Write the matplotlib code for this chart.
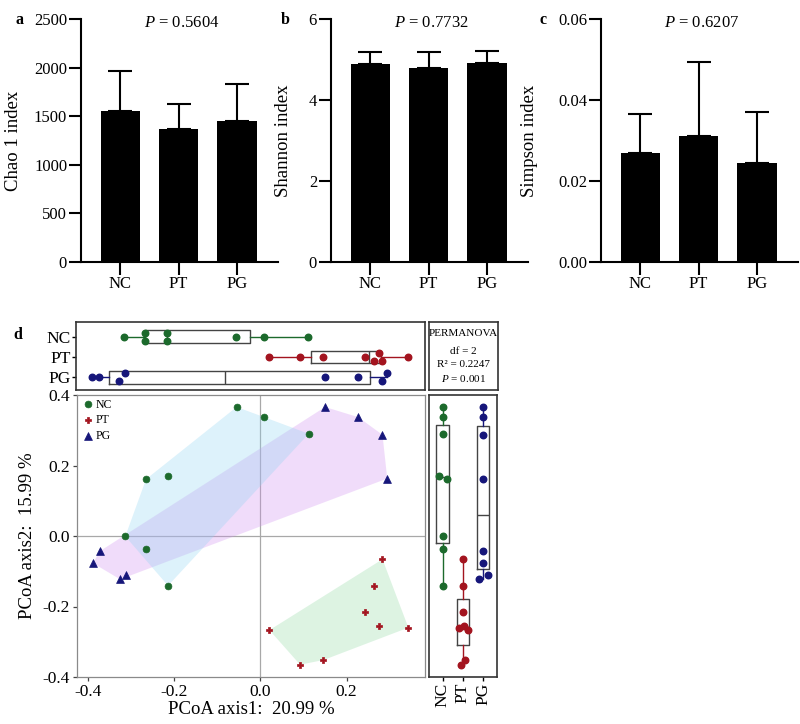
import numpy as np
import matplotlib
matplotlib.use('Agg')
import matplotlib.pyplot as plt

plt.rcParams['font.family'] = ['Liberation Serif', 'DejaVu Serif']
plt.rcParams['mathtext.fontset'] = 'custom'
plt.rcParams['mathtext.rm'] = 'Liberation Serif'
plt.rcParams['mathtext.it'] = 'Liberation Serif:italic'

# alpha diversity (mean, sd)
groups = ['NC', 'PT', 'PG']
chao_mean = [1553, 1368, 1451]
chao_sd = [412, 254, 377]
shannon_mean = [4.88, 4.78, 4.91]
shannon_sd = [0.30, 0.41, 0.31]
simpson_mean = [0.0268, 0.0311, 0.0244]
simpson_sd = [0.0097, 0.0183, 0.0126]
p_alpha = ['0.5604', '0.7732', '0.6207']

# PCoA coordinates
nc_x = [-0.055, 0.009, 0.112, -0.265, -0.214, -0.313, -0.265, -0.214]
nc_y = [0.366, 0.337, 0.290, 0.161, 0.171, -0.001, -0.038, -0.141]
pt_x = [0.283, 0.263, 0.243, 0.275, 0.343, 0.021, 0.092, 0.146]
pt_y = [-0.066, -0.141, -0.216, -0.254, -0.260, -0.267, -0.365, -0.352]
pg_x = [0.150, 0.227, 0.283, 0.294, -0.372, -0.388, -0.312, -0.325]
pg_y = [0.366, 0.337, 0.287, 0.163, -0.043, -0.077, -0.111, -0.123]

# jitter of the dots in the marginal box plots
nc_jit_top = [0, 0, 0, 0.2, 0.2, 0, -0.2, -0.2]
pt_jit_top = [-0.2, -0.2, 0, 0.2, 0, 0, 0, 0]
pg_jit_top = [0, 0, -0.2, 0.2, 0, 0, 0.2, -0.2]
nc_jit_side = [0, 0, 0, 0.2, -0.18, 0, 0, 0]
pt_jit_side = [0, 0, 0, 0.03, -0.17, 0.23, -0.1, 0.12]
pg_jit_side = [0, 0, 0, 0, 0, 0, 0.22, -0.2]

cols = ['#1c6a2c', '#a3141f', '#16167a']
hull_cols = ['#8fd4f2', '#8fd9a2', '#d08ef0']
markers = ['o', 'P', '^']
msizes = [24, 18, 32]

fig = plt.figure(figsize=(8, 7.24), dpi=100)


def add_ax(l, t, r, b):
    return fig.add_axes([l / 800, 1 - b / 724, (r - l) / 800, (b - t) / 724])


# ---- bar panels a, b, c
bar_data = [(chao_mean, chao_sd, 'Chao 1 index', [0, 500, 1000, 1500, 2000, 2500], '%d', -0.30),
            (shannon_mean, shannon_sd, 'Shannon index', [0, 2, 4, 6], '%d', -0.20),
            (simpson_mean, simpson_sd, 'Simpson index', [0, 0.02, 0.04, 0.06], '%.2f', -0.32)]
lefts = [81, 331, 601]
for i in range(3):
    means, sds, lab, ticks, fmt, lx = bar_data[i]
    ax = add_ax(lefts[i], 19, lefts[i] + 197, 262)
    pos = np.arange(3)
    ax.bar(pos, means, width=0.67, color='black', zorder=3)
    ax.errorbar(pos, means, yerr=[np.zeros(3), sds], fmt='none', ecolor='black',
                elinewidth=1.5, capsize=8.5, capthick=1.5, zorder=2)
    ax.set_xlim(-0.67, 2.7)
    ax.set_ylim(0, ticks[-1])
    ax.set_yticks(ticks)
    ax.set_yticklabels([fmt % t for t in ticks])
    ax.set_xticks(pos)
    ax.set_xticklabels(groups)
    for s in ['top', 'right']:
        ax.spines[s].set_visible(False)
    for s in ['left', 'bottom']:
        ax.spines[s].set_linewidth(1.5)
    ax.tick_params(axis='both', direction='out', length=9, width=1.5, labelsize=12, pad=1)
    ax.set_ylabel(lab, fontsize=13.5)
    ax.yaxis.set_label_coords(lx, 0.5)
    ax.text(0.51, 0.985, '$P$ = ' + p_alpha[i], transform=ax.transAxes,
            ha='center', va='center', fontsize=12)

fig.text(15 / 800, 1 - 20 / 724, 'a', fontsize=11.5, fontweight='bold', va='center')
fig.text(281 / 800, 1 - 20 / 724, 'b', fontsize=11.5, fontweight='bold', va='center')
fig.text(539 / 800, 1 - 20 / 724, 'c', fontsize=11.5, fontweight='bold', va='center')
fig.text(13 / 800, 1 - 335 / 724, 'd', fontsize=11.5, fontweight='bold', va='center')


# ---- PCoA scatter
def hull(xs, ys):
    pts = sorted(zip(xs, ys))

    def cross(o, a, b):
        return (a[0] - o[0]) * (b[1] - o[1]) - (a[1] - o[1]) * (b[0] - o[0])
    lower, upper = [], []
    for p in pts:
        while len(lower) >= 2 and cross(lower[-2], lower[-1], p) <= 0:
            lower.pop()
        lower.append(p)
    for p in reversed(pts):
        while len(upper) >= 2 and cross(upper[-2], upper[-1], p) <= 0:
            upper.pop()
        upper.append(p)
    return np.array(lower[:-1] + upper[:-1])


xs_all = [nc_x, pt_x, pg_x]
ys_all = [nc_y, pt_y, pg_y]
ax = add_ax(77, 395, 425, 677)
ax.axhline(0, color='#a8a8a8', lw=0.9, zorder=0)
ax.axvline(0, color='#a8a8a8', lw=0.9, zorder=0)
for k in [2, 0, 1]:
    h = hull(xs_all[k], ys_all[k])
    ax.fill(h[:, 0], h[:, 1], color=hull_cols[k], alpha=0.3, lw=0, zorder=1)
for k in range(3):
    ax.scatter(xs_all[k], ys_all[k], s=msizes[k], marker=markers[k], color=cols[k],
               edgecolors=cols[k], linewidths=0.5, zorder=3, label=groups[k])
ax.set_xlim(-0.425, 0.3815)
ax.set_ylim(-0.4, 0.4)
ax.set_xticks([-0.4, -0.2, 0.0, 0.2])
ax.set_yticks([-0.4, -0.2, 0.0, 0.2, 0.4])
ax.xaxis.set_major_formatter(matplotlib.ticker.FormatStrFormatter('%.1f'))
ax.yaxis.set_major_formatter(matplotlib.ticker.FormatStrFormatter('%.1f'))
for s in ax.spines.values():
    s.set_color('#8a8a8a')
    s.set_linewidth(0.9)
ax.tick_params(direction='out', length=3, width=0.9, color='#444444', labelsize=12.5, pad=2)
ax.set_xlabel('PCoA axis1:  20.99 %', fontsize=13.5, labelpad=1)
ax.set_ylabel('PCoA axis2:  15.99 %', fontsize=13.5, labelpad=5)
ax.legend(loc='upper left', frameon=False, fontsize=8.5, handletextpad=0.1,
          borderaxespad=0.1, labelspacing=0.3, scatterpoints=1, borderpad=0.2,
          handlelength=1.2)


def tukey_stats(v):
    v = np.sort(np.asarray(v, dtype=float))
    n = len(v)
    half = n // 2
    med = np.median(v)
    q1 = np.median(v[:half + (n % 2)])
    q3 = np.median(v[half:])
    iqr = q3 - q1
    lo = v[v >= q1 - 1.5 * iqr].min()
    hi = v[v <= q3 + 1.5 * iqr].max()
    return dict(med=med, q1=q1, q3=q3, whislo=lo, whishi=hi, fliers=[])


box_kw = dict(widths=0.62, showfliers=False,
              boxprops=dict(color='#444444', lw=1.0),
              medianprops=dict(color='#444444', lw=1.0),
              capprops=dict(lw=0))

# ---- top marginal box plot (axis 1)
axt = add_ax(76, 322, 425, 390)
tpos = [2, 1, 0]
jit_top = [nc_jit_top, pt_jit_top, pg_jit_top]
for k in range(3):
    axt.bxp([tukey_stats(xs_all[k])], positions=[tpos[k]], vert=False,
            whiskerprops=dict(color=cols[k], lw=1.0), **box_kw)
    axt.scatter(xs_all[k], tpos[k] + np.array(jit_top[k]), s=22, color=cols[k], zorder=3)
axt.set_xlim(-0.425, 0.3815)
axt.set_ylim(-0.63, 2.72)
axt.set_xticks([])
axt.set_yticks([2, 1, 0])
axt.set_yticklabels(groups)
for s in axt.spines.values():
    s.set_color('#333333')
    s.set_linewidth(1.2)
axt.tick_params(axis='y', direction='out', length=3, width=1, labelsize=12.5, pad=1)

# ---- right marginal box plot (axis 2)
axr = add_ax(429, 395, 497, 677)
jit_side = [nc_jit_side, pt_jit_side, pg_jit_side]
for k in range(3):
    axr.bxp([tukey_stats(ys_all[k])], positions=[k], vert=True,
            whiskerprops=dict(color=cols[k], lw=1.0), **box_kw)
    axr.scatter(k + np.array(jit_side[k]), ys_all[k], s=22, color=cols[k], zorder=3)
axr.set_xlim(-0.68, 2.69)
axr.set_ylim(-0.4, 0.4)
axr.set_yticks([])
axr.set_xticks([0, 1, 2])
axr.set_xticklabels(groups, rotation=90)
for s in axr.spines.values():
    s.set_color('#333333')
    s.set_linewidth(1.2)
axr.tick_params(axis='x', direction='out', length=3, width=1, labelsize=12.5, pad=1)

# ---- PERMANOVA box
axp = add_ax(429, 322, 498, 390)
axp.set_xticks([])
axp.set_yticks([])
for s in axp.spines.values():
    s.set_color('#333333')
    s.set_linewidth(1.2)
axp.text(0.5, 0.83, 'PERMANOVA', ha='center', va='center', fontsize=8, transform=axp.transAxes)
axp.text(0.5, 0.57, 'df = 2', ha='center', va='center', fontsize=8, transform=axp.transAxes)
axp.text(0.5, 0.37, 'R² = 0.2247', ha='center', va='center', fontsize=8, transform=axp.transAxes)
axp.text(0.5, 0.17, '$P$ = 0.001', ha='center', va='center', fontsize=8, transform=axp.transAxes)

fig.savefig('out.png', dpi=100)
